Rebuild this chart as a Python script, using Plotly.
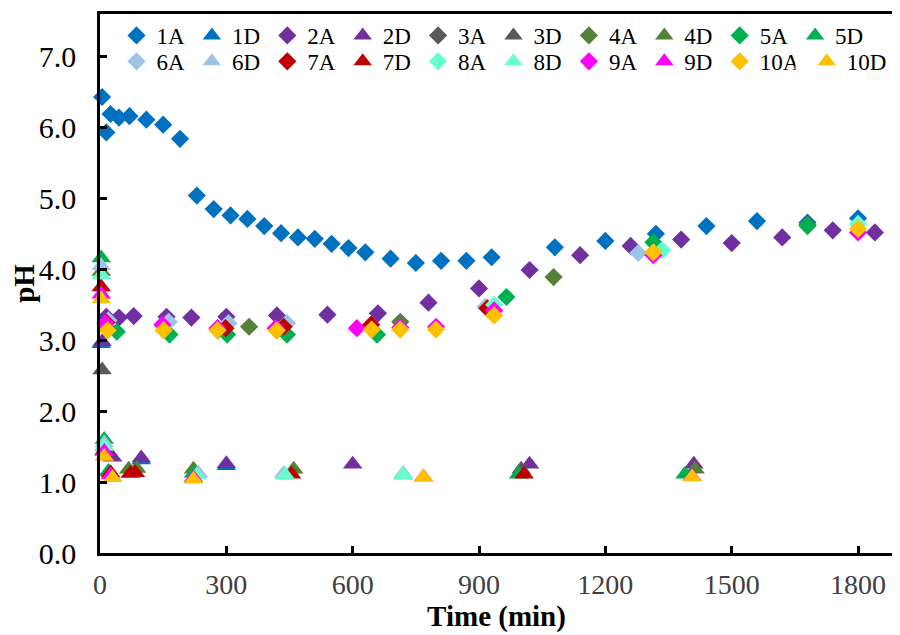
import plotly.graph_objects as go

# ---------------- data ----------------
names = ["1A", "1D", "2A", "2D", "3A", "3D", "4A", "4D", "5A", "5D",
         "6A", "6D", "7A", "7D", "8A", "8D", "9A", "9D", "10A", "10D"]

t_1A = [5, 15, 25, 45, 70, 110, 150, 190, 230, 270, 310, 350, 390, 430, 470, 510, 550, 590,
        630, 690, 750, 810, 870, 930, 1080, 1200, 1320, 1440, 1560, 1680, 1800]
ph_1A = [6.43, 5.93, 6.19, 6.14, 6.16, 6.11, 6.04, 5.84, 5.04, 4.85, 4.76, 4.71, 4.61, 4.51, 4.45,
         4.43, 4.36, 4.30, 4.24, 4.15, 4.09, 4.12, 4.12, 4.17, 4.31, 4.40, 4.50, 4.61, 4.68, 4.66, 4.72]
t_1D = [3, 98, 300]
ph_1D = [2.95, 1.31, 1.23]

t_2A = [15, 45, 80, 158, 217, 300, 420, 540, 660, 780, 900, 1020, 1140, 1260, 1380, 1500, 1620, 1740, 1840]
ph_2A = [3.33, 3.32, 3.34, 3.33, 3.32, 3.33, 3.35, 3.36, 3.38, 3.53, 3.73, 3.99, 4.20, 4.33, 4.42,
         4.37, 4.45, 4.55, 4.52]
t_2D = [5, 30, 98, 300, 600, 1020, 1410]
ph_2D = [2.98, 1.35, 1.34, 1.26, 1.25, 1.25, 1.25]

t_3A = [280, 420]
ph_3A = [3.14, 3.14]
t_3D = [5, 1000]
ph_3D = [2.58, 1.18]

t_4A = [15, 354, 713, 1077, 1680]
ph_4A = [3.18, 3.19, 3.26, 3.89, 4.63]
t_4D = [3, 10, 68, 87, 222, 460, 1413]
ph_4D = [3.97, 1.50, 1.18, 1.19, 1.18, 1.18, 1.18]

t_5A = [40, 165, 302, 444, 658, 965, 1314, 1680]
ph_5A = [3.12, 3.08, 3.08, 3.08, 3.08, 3.61, 4.38, 4.61]
t_5D = [3, 10, 20, 222, 440, 720, 994, 1389]
ph_5D = [4.16, 1.60, 1.15, 1.12, 1.10, 1.10, 1.11, 1.11]

t_6A = [20, 163, 305, 444, 640, 915, 1278]
ph_6A = [3.28, 3.26, 3.24, 3.24, 3.20, 3.47, 4.23]
t_6D = [3, 10, 25, 234, 436, 720]
ph_6D = [4.05, 1.55, 1.12, 1.12, 1.12, 1.12]

t_7A = [15, 298, 436, 644, 920]
ph_7A = [3.25, 3.17, 3.19, 3.22, 3.45]
t_7D = [3, 10, 25, 72, 84, 455, 1007]
ph_7D = [3.75, 1.45, 1.13, 1.12, 1.13, 1.11, 1.11]

t_8A = [936, 1335, 1800]
ph_8A = [3.50, 4.27, 4.64]
t_8D = [3, 10, 230, 440, 720]
ph_8D = [3.92, 1.50, 1.10, 1.10, 1.10]

t_9A = [13, 148, 279, 417, 610, 713, 798, 936, 1314, 1800]
ph_9A = [3.24, 3.22, 3.17, 3.17, 3.17, 3.18, 3.19, 3.42, 4.20, 4.52]
t_9D = [3, 10, 25, 222, 768, 1406]
ph_9D = [3.65, 1.43, 1.10, 1.06, 1.07, 1.08]

t_10A = [18, 151, 279, 420, 645, 713, 798, 936, 1314, 1800]
ph_10A = [3.14, 3.14, 3.14, 3.14, 3.15, 3.15, 3.15, 3.35, 4.24, 4.57]
t_10D = [3, 10, 30, 222, 768, 1406]
ph_10D = [3.58, 1.36, 1.06, 1.04, 1.07, 1.07]

colors = ["#0070C0", "#7030A0", "#595959", "#538135", "#00B050",
          "#9DC3E6", "#C00000", "#66FFCC", "#FF00FF", "#FFC000"]

x_ticks = [0, 300, 600, 900, 1200, 1500, 1800]
y_ticks = [0, 1, 2, 3, 4, 5, 6, 7]
y_tick_text = ["0.0", "1.0", "2.0", "3.0", "4.0", "5.0", "6.0", "7.0"]

series = [
    (t_1A, ph_1A), (t_1D, ph_1D), (t_2A, ph_2A), (t_2D, ph_2D), (t_3A, ph_3A), (t_3D, ph_3D),
    (t_4A, ph_4A), (t_4D, ph_4D), (t_5A, ph_5A), (t_5D, ph_5D), (t_6A, ph_6A), (t_6D, ph_6D),
    (t_7A, ph_7A), (t_7D, ph_7D), (t_8A, ph_8A), (t_8D, ph_8D), (t_9A, ph_9A), (t_9D, ph_9D),
    (t_10A, ph_10A), (t_10D, ph_10D),
]

# ---------------- figure ----------------
FONT = "Liberation Serif, Times New Roman, serif"
fig = go.Figure()
for i, (name, (xs, ys)) in enumerate(zip(names, series)):
    is_a = name.endswith("A")
    if i < 10:
        leg = "legend"
    elif i < 19:
        leg = "legend2"
    else:
        leg = "legend3"
    fig.add_trace(go.Scatter(
        x=xs, y=ys, mode="markers", name=name,
        legend=leg,
        cliponaxis=False,
        marker=dict(symbol="diamond" if is_a else "triangle-up",
                    size=14 if is_a else 17,
                    color=colors[i // 2], line=dict(width=0)),
    ))

legend_common = dict(orientation="h", xanchor="left", yanchor="top",
                     itemwidth=30,
                     font=dict(family=FONT, size=23, color="black"),
                     bgcolor="rgba(0,0,0,0)", tracegroupgap=0, traceorder="normal")

LX = 0.0208
STEP = 76.7 / 793

# page body adds an 8px offset, so the figure is drawn 8px smaller
fig.update_layout(
    width=892, height=627,
    margin=dict(l=92, r=7, t=3, b=82),
    paper_bgcolor="white", plot_bgcolor="white",
    font=dict(family=FONT, size=24, color="black"),
    showlegend=True,
    legend=dict(x=LX, y=1.0, entrywidth=30.4, entrywidthmode="pixels", **legend_common),
    legend2=dict(x=LX, y=0.952, entrywidth=30.4, entrywidthmode="pixels", **legend_common),
    legend3=dict(x=LX + 9 * STEP, y=0.952, **legend_common),
    xaxis=dict(range=[0, 1883], tickvals=x_ticks, ticks="inside", ticklen=7, tickwidth=2.5,
               tickcolor="black", showline=True, linewidth=2.5, linecolor="black",
               mirror=True, showgrid=False, zeroline=False,
               tickfont=dict(family=FONT, size=28, color="#404040"),
               ticklabelstandoff=5,
               title=dict(text="<b>Time (min)</b>", font=dict(family=FONT, size=29, color="black"),
                          standoff=0)),
    yaxis=dict(range=[0, 7.6], tickvals=y_ticks, ticktext=y_tick_text, ticks="inside",
               ticklen=7, tickwidth=2.5, tickcolor="black", showline=True, linewidth=2.5,
               linecolor="black", showgrid=False, zeroline=False,
               tickfont=dict(family=FONT, size=30, color="black"),
               ticklabelstandoff=15,
               title=dict(text="<b>pH</b>", font=dict(family=FONT, size=29, color="black"),
                          standoff=0)),
    shapes=[dict(type="line", xref="paper", yref="paper", x0=1, x1=1, y0=0, y1=1,
                 line=dict(color="#555555", width=1.2))],
)

fig.write_html("out.html")
